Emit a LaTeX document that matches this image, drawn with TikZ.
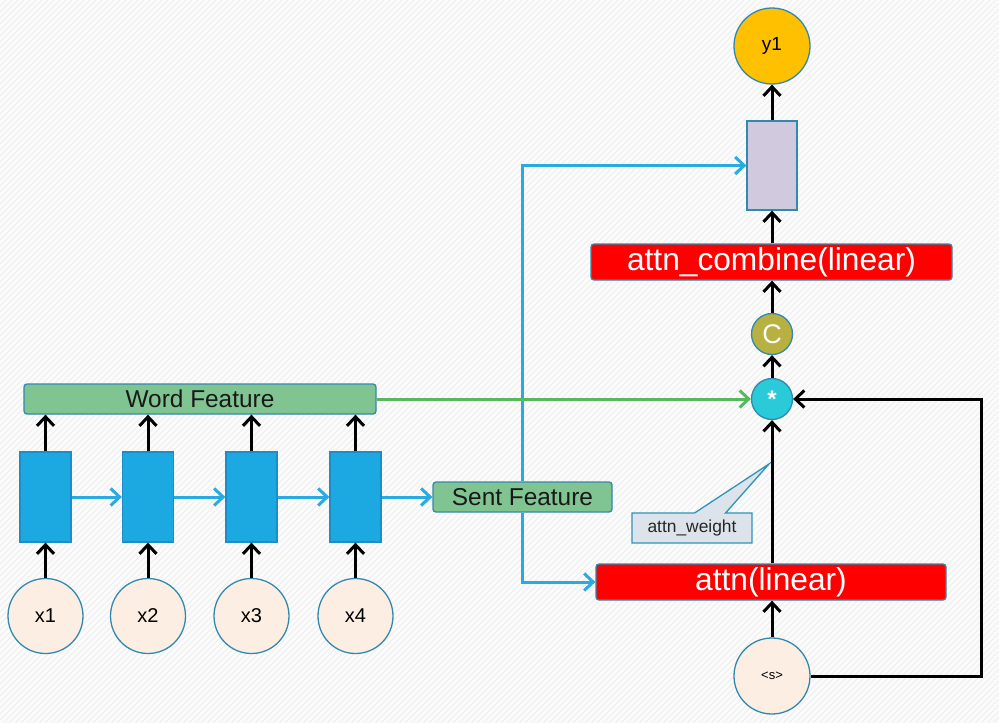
\documentclass[tikz,border=0pt]{standalone}
\usepackage{fontspec}
\setmainfont{Liberation Sans}
\usetikzlibrary{arrows.meta, positioning, shapes.callouts}
\definecolor{bgGray}{RGB}{251, 251, 251}
\definecolor{hatchGray}{RGB}{238, 238, 238}
\definecolor{edgeBlue}{RGB}{49, 137, 175}
\definecolor{cellBlue}{RGB}{28, 169, 225}
\definecolor{cellEdge}{RGB}{30, 140, 200}
\definecolor{featGreen}{RGB}{128, 196, 145}
\definecolor{tokenLinen}{RGB}{252, 238, 227}
\definecolor{outYellow}{RGB}{255, 192, 0}
\definecolor{decPurple}{RGB}{209, 201, 221}
\definecolor{concatOlive}{RGB}{184, 176, 64}
\definecolor{mulCyan}{RGB}{42, 202, 216}
\definecolor{noteGray}{RGB}{220, 227, 234}
\definecolor{flowBlue}{RGB}{41, 171, 226}
\definecolor{flowGreen}{RGB}{88, 184, 92}

\begin{document}
\begin{tikzpicture}[
    x=1pt, y=-1pt, % pixel grid, y grows downwards
    % --- Node Styles ---
    base/.style={draw=edgeBlue, line width=1.3pt, inner sep=0pt, text centered},
    cell/.style={base, rectangle, fill=cellBlue, draw=cellEdge, minimum width=51pt, minimum height=90pt},
    feature/.style={base, rectangle, rounded corners=3pt, fill=featGreen, minimum height=30pt,
        text=black!90, font=\fontsize{24.4}{28}\selectfont},
    linear/.style={base, rectangle, rounded corners=3pt, fill=red, minimum height=36pt,
        text=white, font=\fontsize{31.7}{36}\selectfont},
    token/.style={base, circle, fill=tokenLinen, minimum size=75pt, font=\fontsize{20}{24}\selectfont},
    op/.style={base, circle, minimum size=41pt, text=white},
    weightNote/.style={base, rectangle callout, fill=noteGray, draw=edgeBlue!90!cyan, minimum width=120pt,
        minimum height=30pt, callout pointer width=31pt, text=black!85, font=\fontsize{17.4}{20}\selectfont},
    arrow/.style={-{Straight Barb[length=9pt,width=17pt]}, line width=3pt, draw=black},
    blueArrow/.style={arrow, draw=flowBlue},
    greenArrow/.style={arrow, draw=flowGreen}
]

    % --- Canvas ---
    \fill[bgGray] (0,0) rectangle (999,723);
    \begin{scope}
        \clip (0,0) rectangle (999,723);
        \foreach \k in {0,6,...,1722}
            \draw[hatchGray, line width=0.8pt] (\k,0) -- (\k-723,723);
    \end{scope}
    \useasboundingbox (0,0) rectangle (999,723);

    % --- ENCODER (left) ---
    \node (word) [feature, minimum width=352pt] at (200,399) {Word Feature};

    \node (cell1) [cell] at (45.5,497) {};
    \node (cell2) [cell] at (148,497) {};
    \node (cell3) [cell] at (251.5,497) {};
    \node (cell4) [cell] at (355.5,497) {};

    \node (x1) [token] at (45.5,616) {x1};
    \node (x2) [token] at (148,616) {x2};
    \node (x3) [token] at (251.5,616) {x3};
    \node (x4) [token] at (355.5,616) {x4};

    \node (sent) [feature, minimum width=179pt] at (522.5,497) {Sent Feature};

    % --- ATTENTION DECODER (right) ---
    \node (s) [token, minimum size=76pt, font=\fontsize{13}{15}\selectfont] at (772,676) {<s>};
    \node (attn) [linear, minimum width=350pt] at (771,582) {attn(linear)};
    \node (mul) [op, fill=mulCyan, font=\bfseries\fontsize{24}{24}\selectfont] at (772,399) {*};
    \node (concat) [op, fill=concatOlive, font=\fontsize{27}{30}\selectfont] at (772,334) {C};
    \node (combine) [linear, minimum width=361pt] at (771.5,262) {attn\_combine(linear)};
    \node (dec) [base, rectangle, fill=decPurple, minimum width=50pt, minimum height=89pt] at (772,165.5) {};
    \node (y1) [token, fill=outYellow, minimum size=76pt, font=\fontsize{19}{22}\selectfont] at (772,46) {y1};

    \coordinate (weightTip) at (769,464);
    \node (weight) [weightNote, callout absolute pointer=(weightTip)] at (692,528) {attn\_weight};

    % --- Arrows ---
    \draw [arrow] (x1) -- (cell1);
    \draw [arrow] (x2) -- (cell2);
    \draw [arrow] (x3) -- (cell3);
    \draw [arrow] (x4) -- (cell4);
    \draw [arrow] (cell1.north) -- (cell1.north |- word.south);
    \draw [arrow] (cell2.north) -- (cell2.north |- word.south);
    \draw [arrow] (cell3.north) -- (cell3.north |- word.south);
    \draw [arrow] (cell4.north) -- (cell4.north |- word.south);

    \draw [blueArrow] (cell1) -- (cell2);
    \draw [blueArrow] (cell2) -- (cell3);
    \draw [blueArrow] (cell3) -- (cell4);
    \draw [blueArrow] (cell4) -- (sent);
    \draw [blueArrow] (sent.north) |- (dec.west);
    \draw [blueArrow] (sent.south) |- (attn.west);

    \draw [greenArrow] (word.east) -- (mul.west);

    \draw [arrow] (s) -- (s |- attn.south);
    \draw [arrow] (mul |- attn.north) -- (mul.south);
    \draw [arrow] (mul) -- (concat);
    \draw [arrow] (concat) -- (concat |- combine.south);
    \draw [arrow] (dec |- combine.north) -- (dec);
    \draw [arrow] (dec) -- (y1);

    \coordinate (feedback) at (981,399);
    \draw [arrow] (s.east) -| (feedback) -- (mul.east);

\end{tikzpicture}
\end{document}
